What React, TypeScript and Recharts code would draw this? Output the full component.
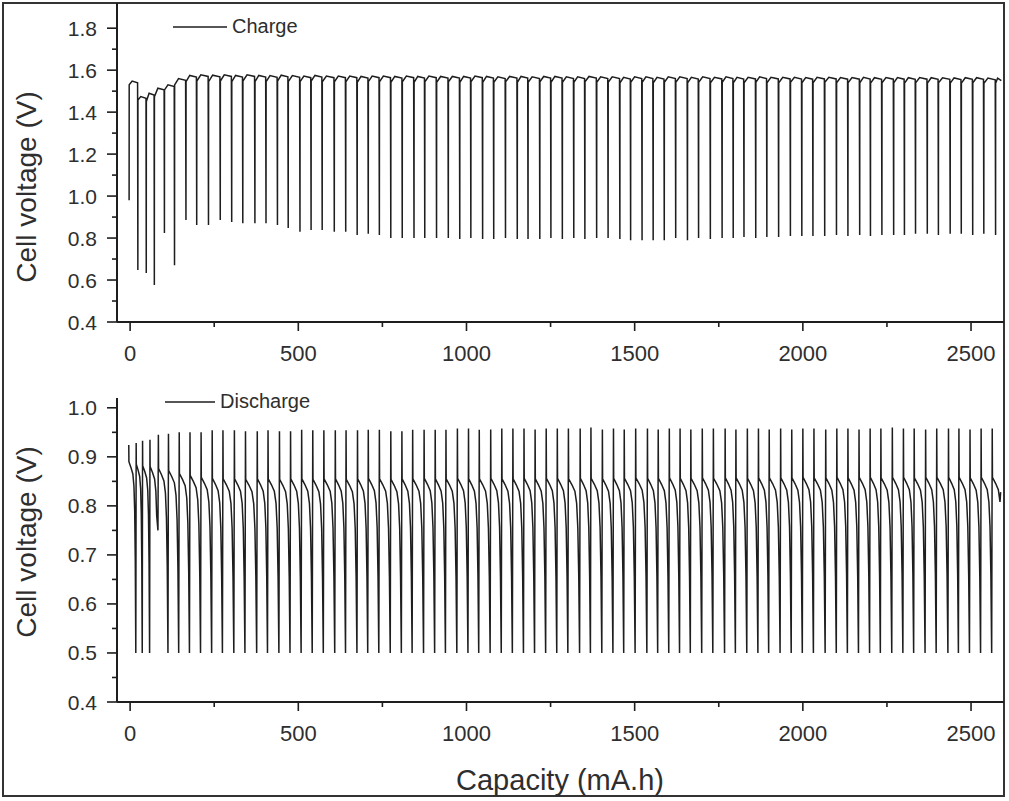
import { LineChart, Line, XAxis, YAxis, Legend } from 'recharts'

const FONT = '"Liberation Sans", Arial, sans-serif'
const INK = '#1e1e1e'
const TEXT = '#2e2e2e'

// axis ticks
const capMajor = [0, 500, 1000, 1500, 2000, 2500]
const capMinor = [250, 750, 1250, 1750, 2250]
const chargeMajor = [0.4, 0.6, 0.8, 1.0, 1.2, 1.4, 1.6, 1.8]
const chargeMinor = [0.5, 0.7, 0.9, 1.1, 1.3, 1.5, 1.7]
const dischargeMajor = [0.4, 0.5, 0.6, 0.7, 0.8, 0.9, 1.0]
const dischargeMinor = [0.45, 0.55, 0.65, 0.75, 0.85, 0.95]

// charge steps: capacity where each step starts (mA.h) and its voltages (V)
const chargeStart = [
  -3, 23, 48, 72, 102, 132, 166, 198, 233, 268,
  302, 335, 371, 404, 438, 470, 505, 538, 571, 607,
  641, 675, 708, 741, 775, 809, 844, 876, 911, 946,
  980, 1013, 1048, 1081, 1116, 1151, 1183, 1218, 1251, 1285,
  1319, 1352, 1387, 1421, 1456, 1488, 1522, 1555, 1588, 1622,
  1657, 1690, 1725, 1760, 1793, 1825, 1860, 1893, 1928, 1963,
  1997, 2030, 2065, 2100, 2134, 2169, 2201, 2235, 2270, 2302,
  2335, 2370, 2403, 2438, 2471, 2505, 2538, 2573,
]
const chargeFloor = [
  0.98, 0.648, 0.633, 0.576, 0.824, 0.67, 0.886, 0.862, 0.862, 0.886,
  0.876, 0.87, 0.87, 0.87, 0.862, 0.848, 0.83, 0.838, 0.838, 0.83,
  0.83, 0.814, 0.82, 0.814, 0.8, 0.8, 0.8, 0.8, 0.8, 0.8,
  0.795, 0.8, 0.795, 0.795, 0.8, 0.795, 0.795, 0.795, 0.8, 0.795,
  0.8, 0.795, 0.8, 0.8, 0.795, 0.79, 0.79, 0.79, 0.79, 0.8,
  0.79, 0.8, 0.795, 0.8, 0.8, 0.805, 0.8, 0.805, 0.805, 0.81,
  0.81, 0.81, 0.81, 0.815, 0.81, 0.815, 0.81, 0.815, 0.815, 0.815,
  0.82, 0.82, 0.815, 0.82, 0.82, 0.815, 0.82, 0.815,
]
const chargeRise = [
  1.53, 1.458, 1.45, 1.474, 1.506, 1.53, 1.545, 1.548, 1.545, 1.548,
  1.545, 1.548, 1.545, 1.545, 1.548, 1.545, 1.545, 1.548, 1.545, 1.545,
  1.545, 1.542, 1.545, 1.545, 1.542, 1.545, 1.542, 1.545, 1.542, 1.545,
  1.542, 1.545, 1.542, 1.542, 1.545, 1.542, 1.542, 1.545, 1.542, 1.542,
  1.542, 1.545, 1.542, 1.542, 1.54, 1.542, 1.542, 1.54, 1.542, 1.542,
  1.54, 1.542, 1.54, 1.542, 1.54, 1.54, 1.542, 1.54, 1.54, 1.542,
  1.54, 1.54, 1.542, 1.54, 1.54, 1.54, 1.538, 1.54, 1.54, 1.538,
  1.54, 1.538, 1.54, 1.538, 1.538, 1.54, 1.538, 1.538,
]
const chargePeak = [
  1.548, 1.474, 1.49, 1.514, 1.53, 1.56, 1.575, 1.578, 1.576, 1.578,
  1.575, 1.578, 1.575, 1.574, 1.576, 1.574, 1.572, 1.575, 1.572, 1.572,
  1.572, 1.57, 1.572, 1.572, 1.57, 1.572, 1.57, 1.572, 1.57, 1.57,
  1.57, 1.572, 1.57, 1.568, 1.57, 1.57, 1.568, 1.57, 1.57, 1.568,
  1.568, 1.57, 1.568, 1.568, 1.566, 1.568, 1.568, 1.566, 1.568, 1.568,
  1.566, 1.568, 1.566, 1.568, 1.566, 1.566, 1.568, 1.566, 1.566, 1.566,
  1.565, 1.566, 1.566, 1.565, 1.565, 1.566, 1.564, 1.565, 1.565, 1.564,
  1.565, 1.564, 1.564, 1.563, 1.564, 1.564, 1.562, 1.562,
]
const chargeEnd = { cap: 2590, v: 1.55 }

// discharge steps
const dischargeStart = [
  -4, 18, 37, 59, 84, 114, 146, 178, 211, 244,
  276, 310, 343, 378, 410, 444, 477, 510, 543, 576,
  610, 642, 676, 708, 741, 775, 808, 840, 874, 907,
  939, 973, 1006, 1038, 1072, 1105, 1138, 1171, 1204, 1237,
  1270, 1303, 1338, 1370, 1404, 1437, 1469, 1503, 1538, 1570,
  1603, 1635, 1667, 1701, 1734, 1769, 1801, 1835, 1868, 1900,
  1934, 1967, 2000, 2033, 2068, 2101, 2134, 2167, 2200, 2232,
  2266, 2299, 2331, 2365, 2398, 2433, 2464, 2497, 2530, 2563,
]
const dischargeTop = [
  0.924, 0.928, 0.933, 0.935, 0.945, 0.947, 0.95, 0.95, 0.95, 0.954,
  0.954, 0.954, 0.952, 0.952, 0.954, 0.952, 0.952, 0.955, 0.954, 0.954,
  0.954, 0.954, 0.954, 0.955, 0.955, 0.952, 0.952, 0.955, 0.955, 0.955,
  0.955, 0.958, 0.958, 0.955, 0.956, 0.958, 0.958, 0.958, 0.956, 0.958,
  0.958, 0.958, 0.958, 0.96, 0.956, 0.958, 0.956, 0.958, 0.958, 0.956,
  0.958, 0.958, 0.956, 0.958, 0.958, 0.958, 0.956, 0.958, 0.958, 0.956,
  0.958, 0.956, 0.958, 0.958, 0.956, 0.958, 0.958, 0.956, 0.958, 0.958,
  0.96, 0.958, 0.958, 0.956, 0.958, 0.958, 0.958, 0.956, 0.958, 0.958,
]
const dischargeKink = [
  0.89, 0.885, 0.882, 0.88, 0.876, 0.872, 0.866, 0.862, 0.858, 0.856,
  0.855, 0.855, 0.854, 0.855, 0.855, 0.854, 0.855, 0.855, 0.854, 0.855,
  0.855, 0.854, 0.855, 0.856, 0.855, 0.854, 0.855, 0.855, 0.856, 0.855,
  0.855, 0.856, 0.855, 0.855, 0.856, 0.855, 0.855, 0.856, 0.855, 0.856,
  0.856, 0.855, 0.856, 0.856, 0.855, 0.856, 0.856, 0.857, 0.856, 0.856,
  0.857, 0.856, 0.856, 0.857, 0.856, 0.857, 0.857, 0.856, 0.857, 0.857,
  0.857, 0.857, 0.858, 0.857, 0.857, 0.858, 0.857, 0.858, 0.858, 0.857,
  0.858, 0.858, 0.857, 0.858, 0.858, 0.858, 0.858, 0.857, 0.858, 0.858,
]
const dischargeBottom = [
  0.5, 0.5, 0.5, 0.75, 0.5, 0.5, 0.5, 0.5, 0.5, 0.5,
  0.5, 0.5, 0.5, 0.5, 0.5, 0.5, 0.5, 0.5, 0.5, 0.5,
  0.5, 0.5, 0.5, 0.5, 0.5, 0.5, 0.5, 0.5, 0.5, 0.5,
  0.5, 0.5, 0.5, 0.5, 0.5, 0.5, 0.5, 0.5, 0.5, 0.5,
  0.5, 0.5, 0.5, 0.5, 0.5, 0.5, 0.5, 0.5, 0.5, 0.5,
  0.5, 0.5, 0.5, 0.5, 0.5, 0.5, 0.5, 0.5, 0.5, 0.5,
  0.5, 0.5, 0.5, 0.5, 0.5, 0.5, 0.5, 0.5, 0.5, 0.5,
  0.5, 0.5, 0.5, 0.5, 0.5, 0.5, 0.5, 0.5, 0.5, 0.5,
]
const dischargeEnd = { cap: 2588, v: 0.828 }

// typical step shape: [fraction of step, volts below kink]
const dischargeShape = [
  [0.02, 0], [0.3, 0.012], [0.55, 0.025], [0.7, 0.05], [0.8, 0.1], [0.88, 0.2],
]

type Pt = { cap: number; v: number }

const chargeData: Pt[] = chargeStart.flatMap((s, i) => {
  const last = i === chargeStart.length - 1
  const next = last ? chargeEnd.cap : chargeStart[i + 1]
  const w = next - s
  const pts: Pt[] = [
    { cap: s, v: chargeFloor[i] },
    { cap: s + 0.01 * w, v: chargeRise[i] },
    { cap: s + 0.35 * w, v: chargePeak[i] },
  ]
  pts.push(last ? chargeEnd : { cap: s + 0.97 * w, v: chargePeak[i] - 0.008 })
  return pts
})

const dischargeData: Pt[] = dischargeStart.flatMap((s, i) => {
  const last = i === dischargeStart.length - 1
  const w = last ? 33 : dischargeStart[i + 1] - s
  const pts: Pt[] = [{ cap: s, v: dischargeTop[i] }]
  for (const [f, d] of dischargeShape) {
    const cap = s + f * w
    if (last && cap >= dischargeEnd.cap) break
    const v = dischargeKink[i] - d
    if (v <= dischargeBottom[i]) break
    pts.push({ cap, v })
  }
  if (last) pts.push(dischargeEnd)
  else pts.push({ cap: s + 0.95 * w, v: dischargeBottom[i] })
  return pts
})

const isIn = (arr: number[], v: number) => arr.some((t) => Math.abs(t - v) < 1e-6)

function XTick(props: any) {
  const { x, y, payload } = props
  const major = isIn(capMajor, payload.value)
  return (
    <g>
      <line x1={x} x2={x} y1={y} y2={y + (major ? 9 : 5)} stroke={INK} strokeWidth={1.6} />
      {major && (
        <text x={x} y={y + 39} textAnchor="middle" fontSize={22} fontFamily={FONT} fill={TEXT}>
          {payload.value}
        </text>
      )}
    </g>
  )
}

function makeYTick(majors: number[]) {
  return function YTick(props: any) {
    const { x, y, payload } = props
    const major = isIn(majors, payload.value)
    return (
      <g>
        <line x1={x} x2={x - (major ? 10 : 5)} y1={y} y2={y} stroke={INK} strokeWidth={1.6} />
        {major && (
          <text x={x - 20} y={y + 7.5} textAnchor="end" fontSize={21} fontFamily={FONT} fill={TEXT}>
            {Number(payload.value).toFixed(1)}
          </text>
        )}
      </g>
    )
  }
}

const yTitle = (cy: number) => () => (
  <text
    x={36}
    y={cy}
    transform={`rotate(-90 36 ${cy})`}
    textAnchor="middle"
    fontSize={28}
    fontFamily={FONT}
    fill={TEXT}
  >
    Cell voltage (V)
  </text>
)

const legendFor = (name: string, lineW: number) => () => (
  <div style={{ display: 'flex', alignItems: 'center', fontFamily: FONT, fontSize: 20, color: TEXT, whiteSpace: 'nowrap' }}>
    <svg width={lineW + 2} height={6}>
      <line x1={0} x2={lineW} y1={3} y2={3} stroke={INK} strokeWidth={1.5} />
    </svg>
    <span style={{ marginLeft: 3 }}>{name}</span>
  </div>
)

const axisLine = { stroke: INK, strokeWidth: 2 }

export default function App() {
  return (
    <div style={{ position: 'absolute', left: 0, top: 0, width: 1009, height: 801, background: '#fff' }}>
      <div
        style={{
          position: 'absolute', left: 2, top: 2, width: 1003, height: 795,
          boxSizing: 'border-box', border: '2px solid #333',
        }}
      />
      <div style={{ position: 'absolute', left: 0, top: 0 }}>
        <LineChart width={1009} height={380} data={chargeData} margin={{ top: 3, right: 5, bottom: 0, left: 0 }}>
          <XAxis
            dataKey="cap" type="number" domain={[-39, 2598]} allowDataOverflow
            ticks={[...capMajor, ...capMinor].sort((a, b) => a - b)} interval={0}
            tick={XTick} tickLine={false} tickSize={0} tickMargin={0} height={58} axisLine={axisLine}
          />
          <YAxis
            type="number" domain={[0.4, 1.92]} allowDataOverflow
            ticks={[...chargeMajor, ...chargeMinor].sort((a, b) => a - b)} interval={0}
            tick={makeYTick(chargeMajor)} tickLine={false} tickSize={0} tickMargin={0} width={117}
            axisLine={axisLine} label={{ content: yTitle(187) }}
          />
          <Legend
            layout="vertical" align="center" verticalAlign="middle"
            content={legendFor('Charge', 54)}
            wrapperStyle={{ position: 'absolute', left: 173, top: 15, width: 'auto' }}
          />
          <Line type="linear" dataKey="v" stroke={INK} strokeWidth={1.5} dot={false} isAnimationActive={false} name="Charge" />
        </LineChart>
      </div>
      <div style={{ position: 'absolute', left: 0, top: 380 }}>
        <LineChart width={1009} height={420} data={dischargeData} margin={{ top: 18, right: 5, bottom: 0, left: 0 }}>
          <XAxis
            dataKey="cap" type="number" domain={[-39, 2598]} allowDataOverflow
            ticks={[...capMajor, ...capMinor].sort((a, b) => a - b)} interval={0}
            tick={XTick} tickLine={false} tickSize={0} tickMargin={0} height={98} axisLine={axisLine}
            label={{
              content: () => (
                <text x={560} y={410} textAnchor="middle" fontSize={29} fontFamily={FONT} fill={TEXT}>
                  Capacity (mA.h)
                </text>
              ),
            }}
          />
          <YAxis
            type="number" domain={[0.4, 1.02]} allowDataOverflow
            ticks={[...dischargeMajor, ...dischargeMinor].sort((a, b) => a - b)} interval={0}
            tick={makeYTick(dischargeMajor)} tickLine={false} tickSize={0} tickMargin={0} width={117}
            axisLine={axisLine} label={{ content: yTitle(162) }}
          />
          <Legend
            layout="vertical" align="center" verticalAlign="middle"
            content={legendFor('Discharge', 50)}
            wrapperStyle={{ position: 'absolute', left: 165, top: 10, width: 'auto' }}
          />
          <Line type="linear" dataKey="v" stroke={INK} strokeWidth={1.5} dot={false} isAnimationActive={false} name="Discharge" />
        </LineChart>
      </div>
    </div>
  )
}
